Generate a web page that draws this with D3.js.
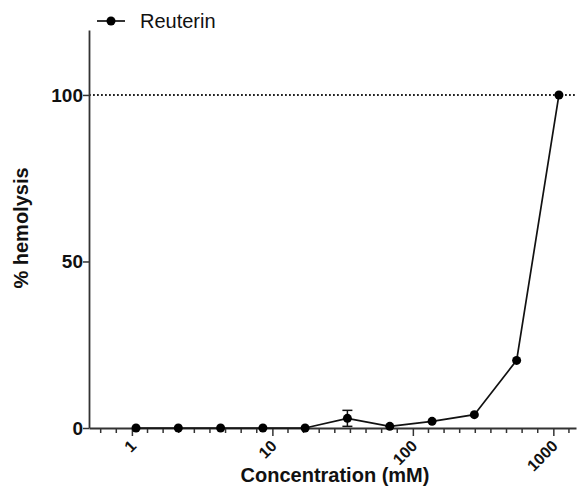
<!doctype html>
<html>
  <head>
    <script src="https://d3js.org/d3.v7.min.js"></script>
    <style>
      body { margin: 0; background: #fff; }
    </style>
  </head>
  <body>
    <script>
    // data
    var concentrations = [1.07, 2.14, 4.28, 8.56, 17.1, 34.2, 68.5, 137, 274, 548, 1096];
    var hemolysis = [0, 0, 0, 0, 0, 2.9, 0.5, 2.0, 4.0, 20.3, 100];
    var errors = [0, 0, 0, 0, 0, 2.4, 0, 0, 0, 0, 0];
    var xTicks = [1, 10, 100, 1000];
    var yTicks = [0, 50, 100];
    var seriesName = "Reuterin";

    var width = 578;
    var height = 487;
    var margin = {top: 30, right: 2, bottom: 59, left: 89};
    var innerWidth = width - margin.left - margin.right;
    var innerHeight = height - margin.top - margin.bottom;
    var font = "Liberation Sans, Arial, sans-serif";

    var svg = d3.select("body")
              .append("svg")
              .attr("width", width)
              .attr("height", height);

    var g = svg.append("g")
              .attr("transform", "translate(" + margin.left + "," + margin.top + ")");

    var xScale = d3.scaleLog()
                  .domain([0.495, 1450])
                  .range([0, innerWidth]);

    var yScale = d3.scaleLinear()
                  .domain([0, 119.5])
                  .range([innerHeight, 0]);

    var axisColor = "#333";

    // dotted reference line at 100
    g.append("line")
      .attr("x1", 0)
      .attr("x2", innerWidth)
      .attr("y1", yScale(100))
      .attr("y2", yScale(100))
      .attr("stroke", "#222")
      .attr("stroke-width", 2)
      .attr("stroke-dasharray", "1.8,2.2");

    // minor ticks evenly spaced inside each decade (as in the picture)
    var minor = [];
    for (var d = -1; d <= 3; d++) {
      for (var k = 1; k < 9; k++) {
        var v = Math.pow(10, d + k / 9);
        if (v > xScale.domain()[0] && v < xScale.domain()[1]) minor.push(v);
      }
    }

    var xAxisG = g.append("g")
      .attr("transform", "translate(0," + innerHeight + ")");

    xAxisG.selectAll(".minor")
      .data(minor)
      .enter()
      .append("line")
        .attr("x1", function(d) { return xScale(d); })
        .attr("x2", function(d) { return xScale(d); })
        .attr("y1", 0)
        .attr("y2", 5)
        .attr("stroke", axisColor)
        .attr("stroke-width", 1.5);

    var xAxis = d3.axisBottom(xScale)
                  .tickValues(xTicks)
                  .tickFormat(d3.format("d"))
                  .tickSize(8)
                  .tickSizeOuter(0);

    xAxisG.call(xAxis);
    xAxisG.select(".domain").attr("stroke", axisColor).attr("stroke-width", 1.8);
    xAxisG.selectAll(".tick line").attr("stroke", axisColor).attr("stroke-width", 1.5);
    xAxisG.selectAll(".tick text")
      .attr("font-family", font)
      .attr("font-weight", "bold")
      .attr("font-size", "16px")
      .attr("fill", "#111")
      .attr("text-anchor", "end")
      .attr("dy", "0")
      .attr("transform", "translate(5,19) rotate(-45)")
      .attr("y", 0)
      .attr("x", 0);

    var yAxis = d3.axisLeft(yScale)
                  .tickValues(yTicks)
                  .tickSize(6)
                  .tickSizeOuter(0);

    var yAxisG = g.append("g").call(yAxis);
    yAxisG.select(".domain").attr("stroke", axisColor).attr("stroke-width", 1.8);
    yAxisG.selectAll(".tick line").attr("stroke", axisColor).attr("stroke-width", 1.5);
    yAxisG.selectAll(".tick text")
      .attr("font-family", font)
      .attr("font-weight", "bold")
      .attr("font-size", "19px")
      .attr("fill", "#111")
      .attr("x", -6);

    // axis titles
    svg.append("text")
      .attr("x", 335)
      .attr("y", 482)
      .attr("text-anchor", "middle")
      .attr("font-family", font)
      .attr("font-weight", "bold")
      .style("font-size", "20px")
      .attr("fill", "#111")
      .text("Concentration (mM)");

    svg.append("text")
      .attr("transform", "translate(28,228) rotate(-90)")
      .attr("text-anchor", "middle")
      .attr("font-family", font)
      .attr("font-weight", "bold")
      .style("font-size", "20px")
      .attr("fill", "#111")
      .text("% hemolysis");

    // line + error bars + points
    var line = d3.line()
                .x(function(d, i) { return xScale(concentrations[i]); })
                .y(function(d) { return yScale(d); });

    g.append("path")
      .datum(hemolysis)
      .attr("d", line)
      .attr("fill", "none")
      .attr("stroke", "#111")
      .attr("stroke-width", 1.7);

    var eb = g.selectAll(".err")
      .data(hemolysis.map(function(v, i) { return {x: concentrations[i], y: v, e: errors[i]}; })
              .filter(function(d) { return d.e > 0; }))
      .enter()
      .append("g");

    eb.append("line")
      .attr("x1", function(d) { return xScale(d.x); })
      .attr("x2", function(d) { return xScale(d.x); })
      .attr("y1", function(d) { return yScale(d.y + d.e); })
      .attr("y2", function(d) { return yScale(d.y - d.e); })
      .attr("stroke", "#111")
      .attr("stroke-width", 1.5);

    eb.selectAll(".cap")
      .data(function(d) { return [d.y + d.e, d.y - d.e].map(function(v) { return {x: d.x, y: v}; }); })
      .enter()
      .append("line")
        .attr("x1", function(d) { return xScale(d.x) - 5; })
        .attr("x2", function(d) { return xScale(d.x) + 5; })
        .attr("y1", function(d) { return yScale(d.y); })
        .attr("y2", function(d) { return yScale(d.y); })
        .attr("stroke", "#111")
        .attr("stroke-width", 1.5);

    g.selectAll(".pt")
      .data(hemolysis)
      .enter()
      .append("circle")
        .attr("cx", function(d, i) { return xScale(concentrations[i]); })
        .attr("cy", function(d) { return yScale(d); })
        .attr("r", 4.5)
        .attr("fill", "#000");

    // legend
    svg.append("line")
      .attr("x1", 97).attr("x2", 125)
      .attr("y1", 21).attr("y2", 21)
      .attr("stroke", "#111").attr("stroke-width", 1.7);
    svg.append("circle")
      .attr("cx", 111).attr("cy", 21).attr("r", 4.5).attr("fill", "#000");
    svg.append("text")
      .attr("x", 140)
      .attr("y", 28)
      .attr("font-family", font)
      .style("font-size", "20px")
      .attr("fill", "#111")
      .text(seriesName);
    </script>
  </body>
</html>
